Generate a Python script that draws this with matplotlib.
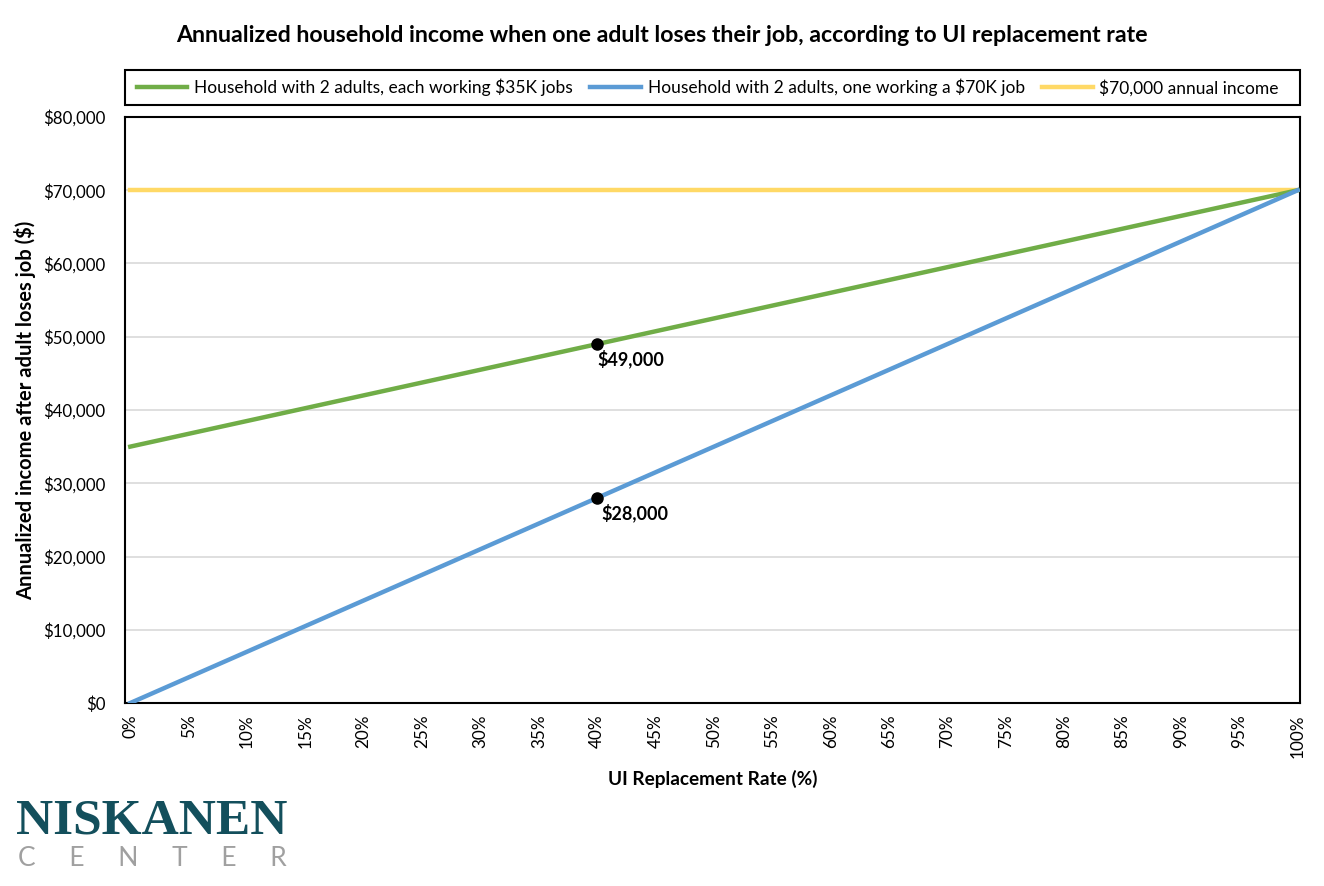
import matplotlib
matplotlib.use("Agg")
import matplotlib.pyplot as plt
from matplotlib.ticker import FuncFormatter, MultipleLocator
from matplotlib.patches import Rectangle

plt.rcParams['font.family'] = ['Lato', 'DejaVu Sans']

# Data (UI replacement rate in %, income in $)
rates = [0, 5, 10, 15, 20, 25, 30, 35, 40, 45, 50, 55, 60, 65, 70, 75, 80, 85, 90, 95, 100]
two_35k = [35000, 36750, 38500, 40250, 42000, 43750, 45500, 47250, 49000, 50750, 52500,
           54250, 56000, 57750, 59500, 61250, 63000, 64750, 66500, 68250, 70000]
one_70k = [0, 3500, 7000, 10500, 14000, 17500, 21000, 24500, 28000, 31500, 35000,
           38500, 42000, 45500, 49000, 52500, 56000, 59500, 63000, 66500, 70000]
income_70k = [70000] * len(rates)

series_labels = ["Household with 2 adults, each working $35K jobs",
                 "Household with 2 adults, one working a $70K job",
                 "$70,000 annual income"]
highlight_rate = 40
highlight_vals = [49000, 28000]
highlight_labels = ["$49,000", "$28,000"]

fig = plt.figure(figsize=(13.24, 8.86), dpi=100)
ax = fig.add_axes([125/1324, 1-703/886, 1175/1324, 586/886])

l1, = ax.plot(rates, two_35k, color="#70ad47", lw=3.2, label=series_labels[0], zorder=3)
l2, = ax.plot(rates, one_70k, color="#5b9bd5", lw=3.2, label=series_labels[1], zorder=3)
l3, = ax.plot(rates, income_70k, color="#ffd966", lw=3.2, label=series_labels[2], zorder=2)

ax.plot([highlight_rate]*2, highlight_vals, 'o', color="black", ms=8, zorder=5, ls='none')
for v, t, dx in zip(highlight_vals, highlight_labels, [0, 3]):
    ax.annotate(t, (highlight_rate, v), xytext=(dx, -11), textcoords="offset points",
                fontsize=13, fontweight="bold", ha="left", va="center")

ax.set_xlim(-0.45, 100.2)
ax.set_ylim(0, 80000)
ax.xaxis.set_major_locator(MultipleLocator(5))
ax.yaxis.set_major_locator(MultipleLocator(10000))
ax.xaxis.set_major_formatter(FuncFormatter(lambda v, p: f"{int(round(v))}%"))
ax.yaxis.set_major_formatter(FuncFormatter(lambda v, p: f"${int(v):,}"))
ax.tick_params(axis='x', labelrotation=90, labelsize=12.3, length=0, pad=8)
ax.tick_params(axis='y', labelsize=12.2, length=0, pad=14)
ax.grid(axis='y', color="#d9d9d9", lw=1.2, zorder=0)
ax.set_axisbelow(True)
for s in ax.spines.values():
    s.set_color("black")
    s.set_linewidth(1.5)

ax.set_xlabel("UI Replacement Rate (%)", fontsize=13.7, fontweight="bold", labelpad=9)
ax.set_ylabel("Annualized income after adult loses job ($)", fontsize=14.5, fontweight="bold", labelpad=5)

fig.text(0.5, 1-35/886, "Annualized household income when one adult loses their job, according to UI replacement rate",
         ha="center", va="center", fontsize=16.7, fontweight="bold")

# legend box
fig.patches.append(Rectangle((125/1324, 1-105/886), 1175/1324, 35/886, transform=fig.transFigure,
                             fill=False, edgecolor="black", lw=1.5))
leg = fig.legend(handles=[l1, l2, l3], loc="center",
                 bbox_to_anchor=(708/1324, 1-87.5/886),
                 ncol=3, fontsize=12.5, frameon=False,
                 handlelength=2.9, handletextpad=0.4, columnspacing=1.0)

fig.text(16/1324, 1-822/886, "NISKANEN", fontsize=37, family=["Liberation Serif", "DejaVu Serif"],
         fontweight="bold", color="#134f5c", ha="left", va="center")
fig.text(18/1324, 1-858/886, "C     E     N     T     E     R", fontsize=19, color="#a0a0a0",
         ha="left", va="center")

fig.savefig("out.png", dpi=100)
